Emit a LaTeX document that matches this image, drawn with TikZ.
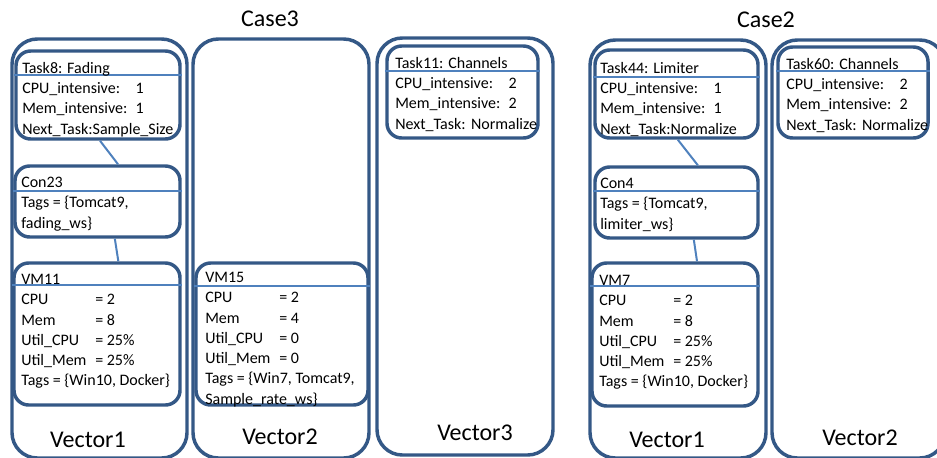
\documentclass[tikz,border=0pt]{standalone}
\usepackage{fontspec}
\setmainfont{Carlito}
\usetikzlibrary{fit}
\definecolor{boxblue}{RGB}{52,88,134}
\definecolor{lineblue}{RGB}{79,129,189}
\tikzset{
  vecbox/.style={draw=boxblue, line width=2.6pt, rounded corners=19pt, inner sep=0pt},
  infobox/.style={draw=boxblue, line width=2.6pt, rounded corners=11pt, inner sep=0pt},
  hdrline/.style={draw=lineblue, line width=0.8pt},
  link/.style={draw=lineblue, line width=1.5pt},
  info/.style={anchor=north west, inner sep=0pt, align=left,
    font=\fontsize{12}{15.2}\selectfont, execute at begin node=\rule{0pt}{12pt}},
  title/.style={font=\fontsize{18}{20}\selectfont, inner sep=0pt},
}
\newcommand{\tk}[2]{\makebox[85pt][l]{#1}#2}
\newcommand{\vk}[2]{\makebox[55.5pt][l]{#1}#2}
\begin{document}
\begin{tikzpicture}[x=0.75pt,y=-0.75pt]
			\useasboundingbox (0,0) rectangle (937,457);
			\clip (0,0) rectangle (937,457);
			% Titoli
			\node[title] (case3) at (270,19) {Case3};
			\node[title] (case2) at (766,20) {Case2};
			
			% Vettori
			\node[vecbox, fit={(12,39) (187,458)}] (c3v1) {};
			\node[vecbox, fit={(193,39) (369,458)}] (c3v2) {};
			\node[vecbox, fit={(377,38) (553,455)}] (c3v3) {};
			\node[vecbox, fit={(590,40) (766,458)}] (c2v1) {};
			\node[vecbox, fit={(772,40) (945,458)}] (c2v2) {};
			
			\node[title] (c3v1lab) at (88,440) {Vector1};
			\node[title] (c3v2lab) at (280,437) {Vector2};
			\node[title] (c3v3lab) at (475,433) {Vector3};
			\node[title] (c2v1lab) at (667,440) {Vector1};
			\node[title] (c2v2lab) at (860,438) {Vector2};
			
			% Riquadri
			\node[infobox, fit={(16,51) (180,139)}] (task8) {};
			\node[infobox, fit={(15,166) (180,237)}] (con23) {};
			\node[infobox, fit={(14,263) (180,405)}] (vm11) {};
			\node[infobox, fit={(196,263) (368,405)}] (vm15) {};
			\node[infobox, fit={(387,46) (538,138)}] (task11) {};
			\node[infobox, fit={(595,50) (758,138)}] (task44) {};
			\node[infobox, fit={(595,167) (758,238)}] (con4) {};
			\node[infobox, fit={(592,263) (758,406)}] (vm7) {};
			\node[infobox, fit={(778,47) (928,138)}] (task60) {};
			
			\foreach \b/\y in {task8/75, con23/191, vm11/285, vm15/286, task11/71,
			                   task44/77, con4/191, vm7/286, task60/71}
			  \draw[hdrline] (\b.west |- 0,\y) -- (\b.east |- 0,\y);
			
			% Collegamenti
			\draw[link] ([xshift=1.5pt]task8.south) -- ([xshift=15.4pt]con23.north);
			\draw[link] ([xshift=13pt]con23.south) -- ([xshift=16pt]vm11.north);
			\draw[link] ([xshift=1pt]task44.south) -- ([xshift=16pt]con4.north);
			\draw[link] ([xshift=13pt]con4.south) -- ([xshift=16.5pt]vm7.north);
			
			% Testi
			\node[info] (task8txt) at (22,62) {Task8: Fading\\ \tk{CPU\_intensive:}{1}\\
			  \tk{Mem\_intensive:}{1}\\ Next\_Task:Sample\_Size};
			\node[info] (con23txt) at (21,177) {Con23\\ Tags = \{Tomcat9,\\ fading\_ws\}};
			\node[info] (vm11txt) at (21,274) {VM11\\ \vk{CPU}{= 2}\\ \vk{Mem}{= 8}\\
			  \vk{Util\_CPU}{= 25\%}\\ \vk{Util\_Mem}{= 25\%}\\ Tags = \{Win10, Docker\}};
			\node[info] (vm15txt) at (205,272) {VM15\\ \vk{CPU}{= 2}\\ \vk{Mem}{= 4}\\
			  \vk{Util\_CPU}{= 0}\\ \vk{Util\_Mem}{= 0}\\ Tags = \{Win7, Tomcat9,\\ Sample\_rate\_ws\}};
			\node[info] (task11txt) at (395,57) {Task11: Channels\\ \tk{CPU\_intensive:}{2}\\
			  \tk{Mem\_intensive:}{2}\\ Next\_Task:\hspace{4pt}Normalize};
			\node[info] (task44txt) at (600,62) {Task44: Limiter\\ \tk{CPU\_intensive:}{1}\\
			  \tk{Mem\_intensive:}{1}\\ Next\_Task:Normalize};
			\node[info] (con4txt) at (600,178) {Con4\\ Tags = \{Tomcat9,\\ limiter\_ws\}};
			\node[info] (vm7txt) at (599,275) {VM7\\ \vk{CPU}{= 2}\\ \vk{Mem}{= 8}\\
			  \vk{Util\_CPU}{= 25\%}\\ \vk{Util\_Mem}{= 25\%}\\ Tags = \{Win10, Docker\}};
			\node[info] (task60txt) at (786,58) {Task60: Channels\\ \tk{CPU\_intensive:}{2}\\
			  \tk{Mem\_intensive:}{2}\\ Next\_Task:\hspace{4pt}Normalize};
		\end{tikzpicture}
\end{document}
